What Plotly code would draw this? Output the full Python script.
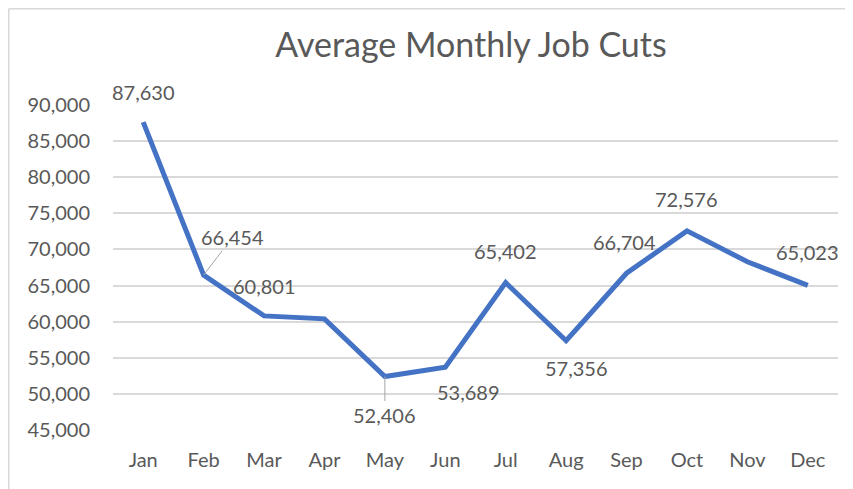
import plotly.graph_objects as go

months = ["Jan", "Feb", "Mar", "Apr", "May", "Jun", "Jul", "Aug", "Sep", "Oct", "Nov", "Dec"]
job_cuts = [87630, 66454, 60801, 60390, 52406, 53689, 65402, 57356, 66704, 72576, 68300, 65023]
labeled = [True, True, True, False, True, True, True, True, True, True, False, True]
y_ticks = list(range(45000, 90001, 5000))

# label placement (pixel offsets): (dx, dy, leader_line)
label_pos = {
    "Jan": (0, 30, False), "Feb": (29, -38, True), "Mar": (0, 30, False),
    "May": (0, 38, True), "Jun": (23, -25, False), "Jul": (0, 32, False),
    "Aug": (10, -27, False), "Sep": (-2, 31, False), "Oct": (0, 32, False),
    "Dec": (0, 33, False),
}

TXT = "#595959"
FONT = "Lato"

W, H = 845, 481
L, R, T, B = 105, 15, 97, 59
PW, PH = W - L - R, H - T - B

fig = go.Figure()
fig.add_trace(go.Scatter(
    x=months, y=job_cuts, mode="lines",
    line=dict(color="#4472C4", width=5),
    hoverinfo="x+y",
))

annotations = []
for m, v, show in zip(months, job_cuts, labeled):
    if not show:
        continue
    dx, dy, leader = label_pos[m]
    txt = f"{v:,}"
    if leader:
        annotations.append(dict(
            x=m, y=v, xref="x", yref="y", text=txt, showarrow=True,
            ax=dx, ay=dy, arrowhead=0, arrowwidth=1, arrowcolor="#A6A6A6",
            font=dict(family=FONT, size=20, color=TXT),
        ))
    else:
        annotations.append(dict(
            x=m, y=v, xref="x", yref="y", text=txt, showarrow=False,
            xshift=dx, yshift=dy,
            font=dict(family=FONT, size=20, color=TXT),
        ))

bx = (0.75 - L) / PW
by = (H - B - 0.75) / PH

fig.update_layout(
    width=W, height=H,
    margin=dict(l=L, r=R, t=T, b=B),
    paper_bgcolor="white", plot_bgcolor="white",
    title=dict(text="Average Monthly Job Cuts", x=463 / W, xanchor="center",
               y=1 - 37 / H, yanchor="middle",
               font=dict(family=FONT, size=34, color=TXT)),
    showlegend=False,
    annotations=annotations,
    xaxis=dict(showgrid=False, showline=False, zeroline=False,
               tickfont=dict(family=FONT, size=20, color=TXT),
               ticks="", ticklabelstandoff=16, range=[-0.5, 11.5]),
    yaxis=dict(range=[45000, 90000], tickvals=y_ticks, tickformat=",d",
               showgrid=True, gridcolor="#D9D9D9", gridwidth=1.5,
               zeroline=False, showline=False, ticks="",
               ticklabelstandoff=22,
               tickfont=dict(family=FONT, size=20, color=TXT)),
    shapes=[
        dict(type="line", xref="paper", yref="paper",
             x0=bx, x1=(W - L + 5) / PW, y0=by, y1=by,
             line=dict(color="#D9D9D9", width=1.5)),
        dict(type="line", xref="paper", yref="paper",
             x0=bx, x1=bx, y0=by, y1=-(B + 5) / PH,
             line=dict(color="#D9D9D9", width=1.5)),
    ],
)

fig.write_html("out.html")
